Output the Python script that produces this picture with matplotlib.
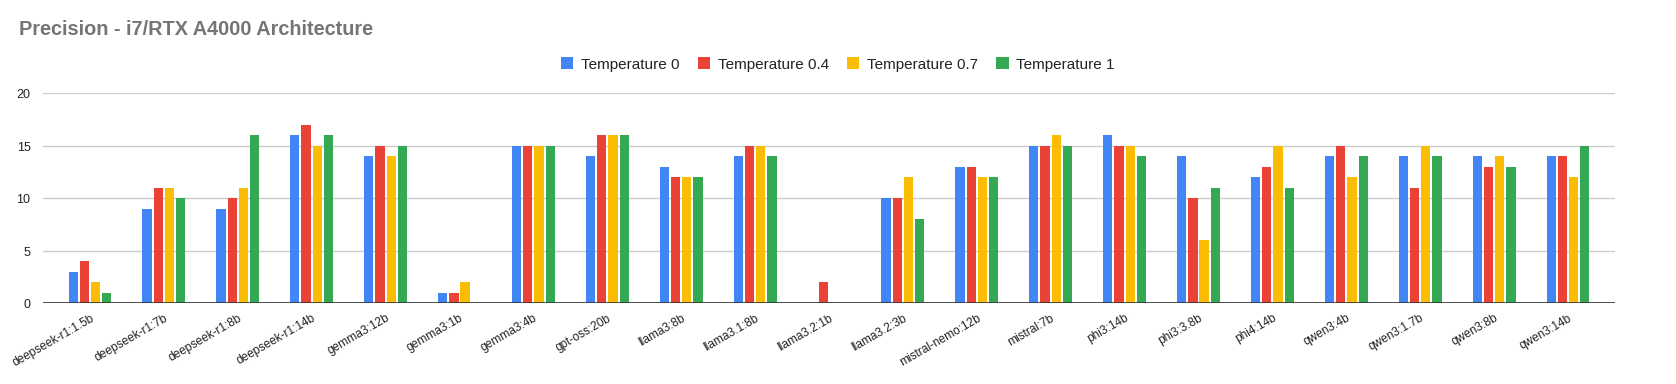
from matplotlib import pyplot as plt
import numpy as np

plt.rcParams['font.family'] = ['Liberation Sans', 'DejaVu Sans']

models = ['deepseek-r1:1.5b', 'deepseek-r1:7b', 'deepseek-r1:8b', 'deepseek-r1:14b',
          'gemma3:12b', 'gemma3:1b', 'gemma3:4b', 'gpt-oss:20b', 'llama3:8b',
          'llama3.1:8b', 'llama3.2:1b', 'llama3.2:3b', 'mistral-nemo:12b', 'mistral:7b',
          'phi3:14b', 'phi3:3.8b', 'phi4:14b', 'qwen3:4b', 'qwen3:1.7b', 'qwen3:8b', 'qwen3:14b']
temp_0 = [3, 9, 9, 16, 14, 1, 15, 14, 13, 14, 0, 10, 13, 15, 16, 14, 12, 14, 14, 14, 14]
temp_04 = [4, 11, 10, 17, 15, 1, 15, 16, 12, 15, 2, 10, 13, 15, 15, 10, 13, 15, 11, 13, 14]
temp_07 = [2, 11, 11, 15, 14, 2, 15, 16, 12, 15, 0, 12, 12, 16, 15, 6, 15, 12, 15, 14, 12]
temp_1 = [1, 10, 16, 16, 15, 0, 15, 16, 12, 14, 0, 8, 12, 15, 14, 11, 11, 14, 14, 13, 15]

series = [temp_0, temp_04, temp_07, temp_1]
labels = ['Temperature 0', 'Temperature 0.4', 'Temperature 0.7', 'Temperature 1']
colors = ['#4285F4', '#EA4335', '#FBBC04', '#34A853']

fig = plt.figure(figsize=(16.76, 3.849), dpi=100)
ax = fig.add_axes([43/1676, 1-304/385, (1615-43)/1676, (304-94)/385])

x = np.arange(len(models))
w = 0.125
pitch = 0.152
for i, (s, lab, c) in enumerate(zip(series, labels, colors)):
    ax.bar(x + (i-1.5)*pitch, s, w, color=c, label=lab, zorder=3)

ax.set_xlim(-0.636, len(models)-1+0.636)
ax.set_ylim(0, 20)
ax.set_yticks([0, 5, 10, 15, 20])
ax.grid(axis='y', color='#cccccc', linewidth=1, zorder=0)
ax.axhline(0, color='#333333', linewidth=1.2, zorder=4)
for sp in ax.spines.values():
    sp.set_visible(False)
ax.tick_params(axis='both', length=0, labelsize=8.6, colors='#222222')
ax.tick_params(axis='y', pad=9, labelsize=9)
ax.tick_params(axis='x', pad=6)
ax.set_xticks(x)
ax.set_xticklabels(models, rotation=30, ha='right', rotation_mode='anchor')

fig.text(19/1676, 1-30/385, 'Precision - i7/RTX A4000 Architecture', fontsize=14.3,
         fontweight='bold', color='#757575', va='center', ha='left')
fig.legend(loc='center', bbox_to_anchor=(0.5, 1-65/385), ncol=4, frameon=False,
           fontsize=11, handlelength=0.8, handleheight=0.8, columnspacing=1.2,
           handletextpad=0.5, labelcolor='#222222')

plt.savefig('out.png')
